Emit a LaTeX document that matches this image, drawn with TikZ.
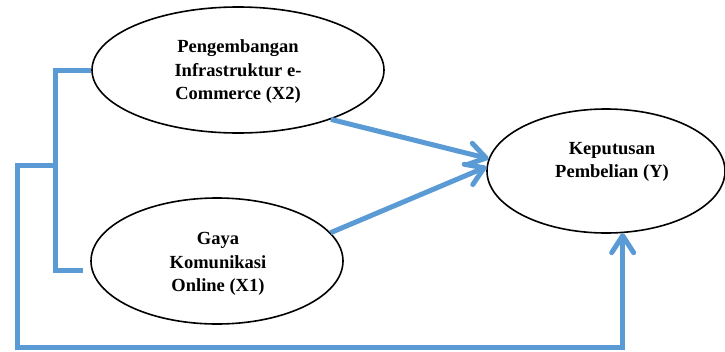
\documentclass[tikz,border=0pt]{standalone}
\usepackage{fontspec}
\setmainfont{Liberation Serif}
\usetikzlibrary{shapes.geometric,arrows.meta}
\definecolor{lineblue}{RGB}{91,155,213}
\tikzset{
  var/.style={draw=black, line width=1.6pt, ellipse, inner sep=0pt},
  txt/.style={font=\fontsize{18.5}{23.5}\selectfont\bfseries, align=center},
  conn/.style={draw=lineblue, line width=5pt},
  arr/.style={conn, -{Straight Barb[length=17pt, width=22pt, round]}}
}
\begin{document}
\begin{tikzpicture}[x=1pt, y=-1pt]
\useasboundingbox (0,0) rectangle (725,351);
\node[var, minimum width=292pt, minimum height=126pt] (x2) at (238,70) {};
\node[txt] (x2t) at (238,72) {Pengembangan\\Infrastruktur e-\\Commerce (X2)};
\node[var, minimum width=252pt, minimum height=126pt] (x1) at (217,261) {};
\node[txt] (x1t) at (218,264) {Gaya\\Komunikasi\\Online (X1)};
\node[var, minimum width=238pt, minimum height=124pt] (y) at (606,171) {};
\node[txt] (yt) at (612,162) {Keputusan\\Pembelian (Y)};
\coordinate (bx) at (55,165);
\coordinate (x1end) at (83,270);
\coordinate (lx) at (17,165);
\coordinate (by) at (17,347);
% bracket
\draw[conn] (x2.west) -| (bx) |- (x1end);
% outer loop
\draw[arr] (bx) -- (lx) -- (by) -| (y.-75);
% direct arrows
\draw[arr] (x2.-28) -- (y.174);
\draw[arr] (x1.14) -- (y.178);
\end{tikzpicture}
\end{document}
